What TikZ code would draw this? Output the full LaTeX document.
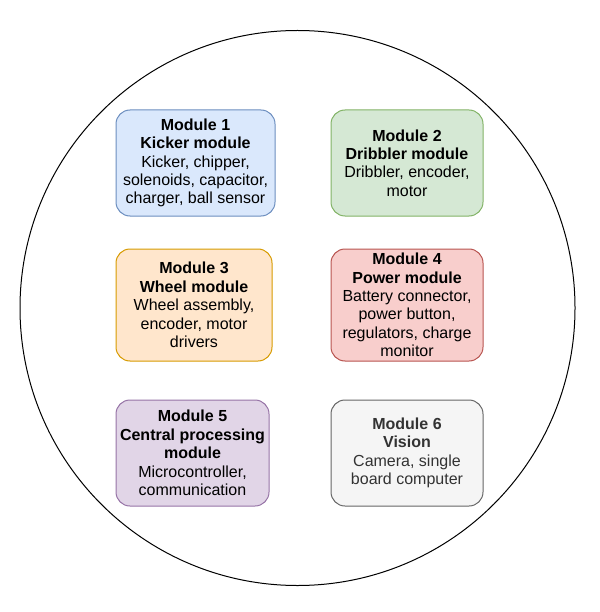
\documentclass[tikz,border=0pt]{standalone}
\usepackage{fontspec}
\setmainfont{Liberation Sans}
\definecolor{kickfill}{HTML}{DAE8FC}
\definecolor{kickline}{HTML}{6C8EBF}
\definecolor{dribfill}{HTML}{D5E8D4}
\definecolor{dribline}{HTML}{82B366}
\definecolor{wheelfill}{HTML}{FFE6CC}
\definecolor{wheelline}{HTML}{D79B00}
\definecolor{powerfill}{HTML}{F8CECC}
\definecolor{powerline}{HTML}{B85450}
\definecolor{cpufill}{HTML}{E1D5E7}
\definecolor{cpuline}{HTML}{9673A6}
\definecolor{visfill}{HTML}{F5F5F5}
\definecolor{visline}{HTML}{666666}
\definecolor{vistext}{HTML}{333333}
\begin{document}
\begin{tikzpicture}[x=1pt,y=-1pt,
	module/.style={draw, rounded corners=14pt, line width=1pt, align=center, inner sep=0pt, minimum width=152pt, minimum height=106pt, font=\fontsize{16}{18.4}\selectfont}]
	\useasboundingbox (0,0) rectangle (599,612);
	\draw[line width=1pt] (297.5,308) circle[radius=277.5];
	\node[module, fill=kickfill, draw=kickline, minimum width=159pt] (mod1) at (195.5,163) {\textbf{Module 1}\\\textbf{Kicker module}\\Kicker, chipper,\\solenoids, capacitor,\\charger, ball sensor};
	\node[module, fill=dribfill, draw=dribline] (mod2) at (407,163) {\textbf{Module 2}\\\textbf{Dribbler module}\\Dribbler, encoder,\\motor};
	\node[module, fill=wheelfill, draw=wheelline, minimum width=156pt, minimum height=112pt] (mod3) at (194,305) {\textbf{Module 3}\\\textbf{Wheel module}\\Wheel assembly,\\encoder, motor\\drivers};
	\node[module, fill=powerfill, draw=powerline, minimum height=112pt] (mod4) at (407,305) {\textbf{Module 4}\\\textbf{Power module}\\Battery connector,\\power button,\\regulators, charge\\monitor};
	\node[module, fill=cpufill, draw=cpuline, minimum width=153pt] (mod5) at (192.5,453) {\textbf{Module 5}\\\textbf{Central processing}\\\textbf{module}\\Microcontroller,\\communication};
	\node[module, fill=visfill, draw=visline, text=vistext] (mod6) at (407,453) {\textbf{Module 6}\\\textbf{Vision}\\Camera, single\\board computer};
\end{tikzpicture}
\end{document}
